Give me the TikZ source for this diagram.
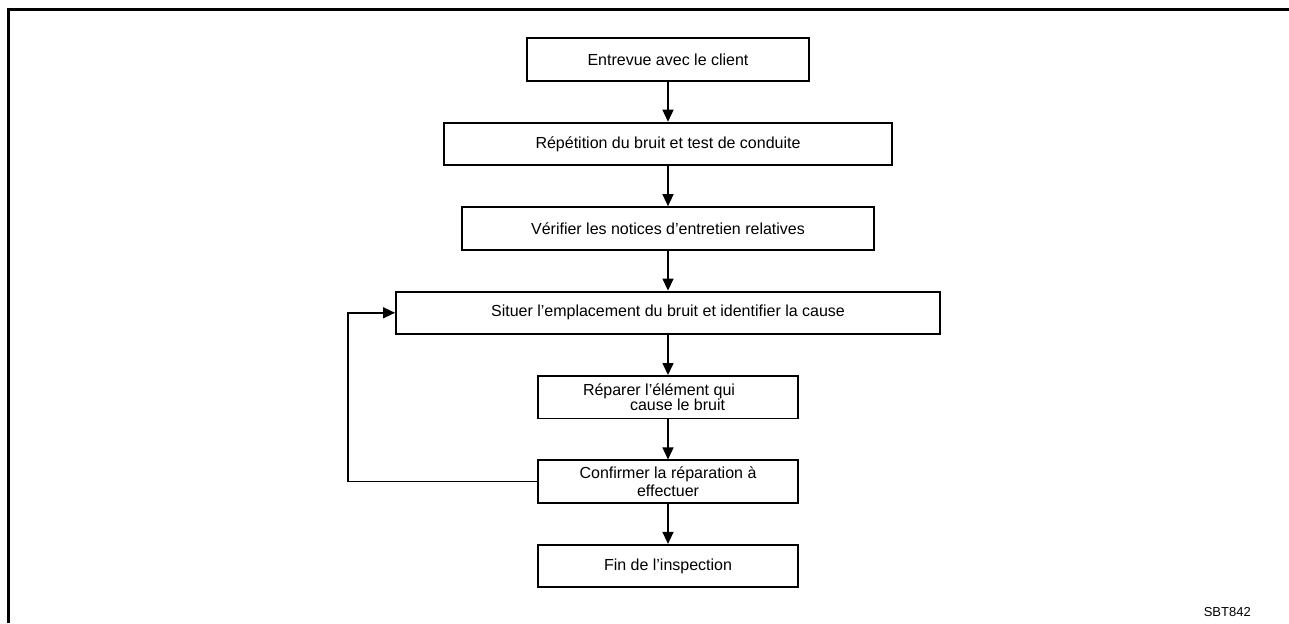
\documentclass[tikz,border=0pt]{standalone}
\usepackage{fontspec}
\setmainfont{Liberation Sans}
\usetikzlibrary{arrows.meta, positioning}

\begin{document}
\begin{tikzpicture}[
    >={Triangle[width=0.22cm, length=0.24cm]},
    node distance=0.80cm,
    phase/.style={
      draw, rectangle, line width=1.1pt,
      minimum height=0.85cm, inner sep=2pt, align=center,
      font=\fontsize{9.1}{10}\selectfont},
    arr/.style={->, line width=0.8pt},
    tag/.style={font=\fontsize{7.4}{9}\selectfont, anchor=base east},
  ]

  % ── Page frame (top and left edge only) ──
  \useasboundingbox (0,0) rectangle (25.78,-12.46);
  \draw[line width=1.7pt] (0.176,-12.46) -- (0.176,-0.19) -- (25.78,-0.19);

  % ── Inspection steps ──
  \node[phase, minimum width=5.64cm] at (13.36,-1.19)
    (intv) {Entrevue avec le client};
  \node[phase, minimum width=8.96cm, below=of intv]
    (rep) {Répétition du bruit et test de conduite};
  \node[phase, minimum width=8.24cm, below=of rep]
    (chk) {Vérifier les notices d'entretien relatives};
  \node[phase, minimum width=10.88cm, below=of chk]
    (loc) {Situer l'emplacement du bruit et identifier la cause};
  \node[phase, minimum width=5.2cm, below=of loc, align=left]
    (fix) {Réparer l'élément qui\hspace*{0.36cm}\\[-1.9pt]\hspace*{0.94cm}cause le bruit};
  \node[phase, minimum width=5.2cm, below=of fix]
    (conf) {Confirmer la réparation à\\effectuer};
  \node[phase, minimum width=5.2cm, below=of conf]
    (fin) {Fin de l'inspection};

  \draw[arr] (intv) -- (rep);
  \draw[arr] (rep) -- (chk);
  \draw[arr] (chk) -- (loc);
  \draw[arr] (loc) -- (fix);
  \draw[arr] (fix) -- (conf);
  \draw[arr] (conf) -- (fin);

  % ── Loop back when the noise is still there ──
  \draw[arr] (conf.west) -- ++(-3.78,0) |- (loc.west);

  % ── Figure code ──
  \node[tag] (code) at (25.14,-12.32) {SBT842};

\end{tikzpicture}
\end{document}
